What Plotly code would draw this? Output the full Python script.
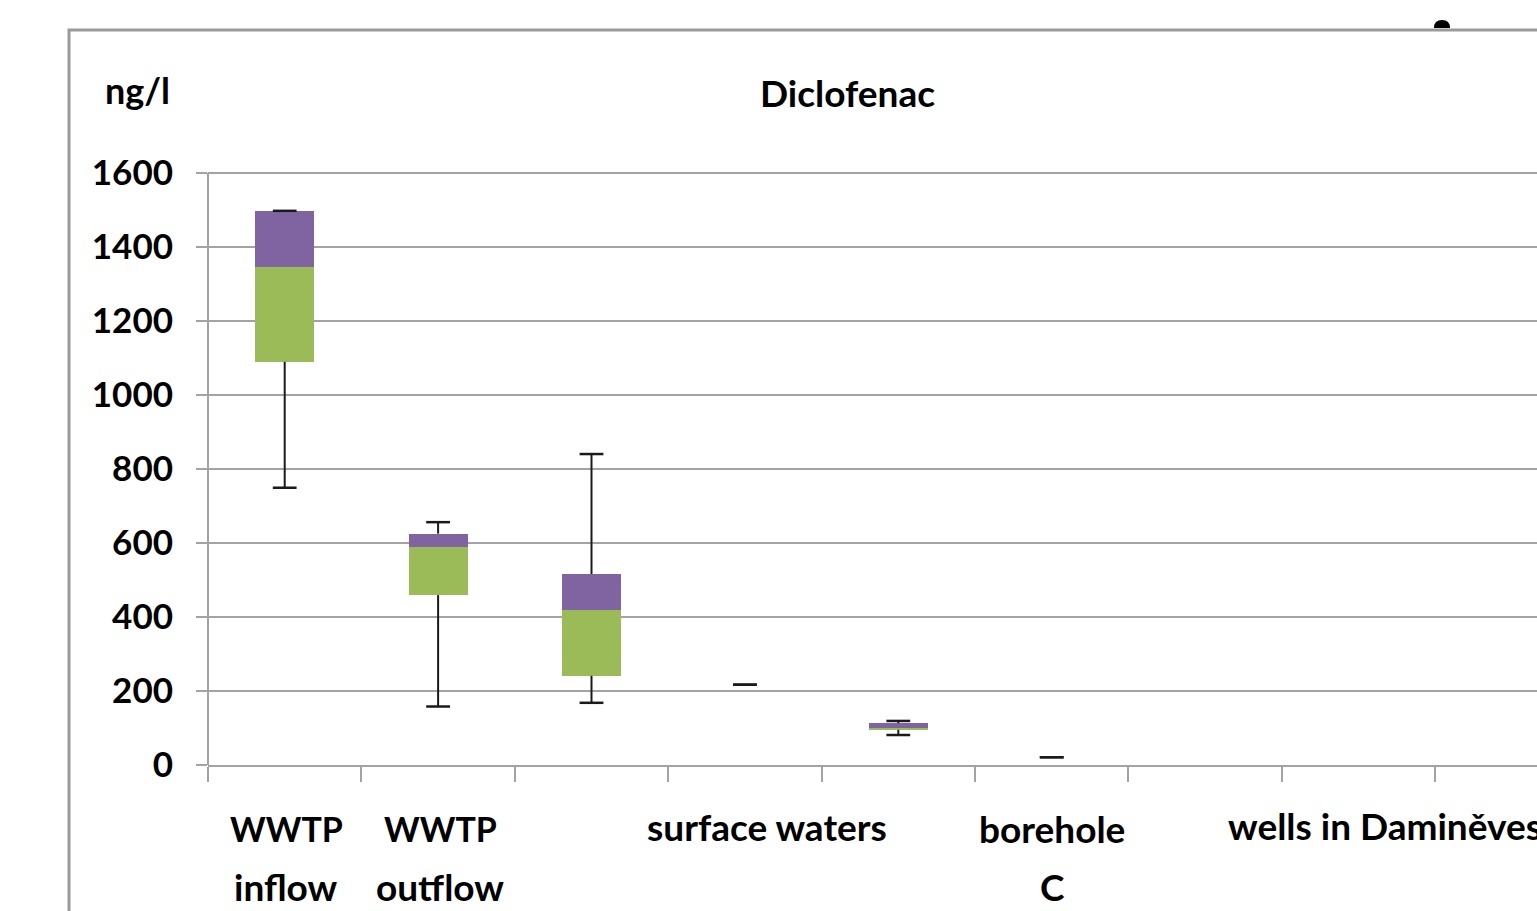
import plotly.graph_objects as go

# ---- data (ng/l) ----
categories = ["WWTP inflow", "WWTP outflow", "cat3", "surface waters 1", "surface waters 2",
              "borehole C", "wells 1", "wells 2", "wells 3"]
x_pos = [0, 1, 2, 3, 4, 5, 6, 7, 8]
v_min = [749, 158, 168, 217, 81, 21, None, None, None]
v_q1 = [1089, 459, 241, 217, 95, 21, None, None, None]
v_med = [1346, 588, 419, 217, 101, 21, None, None, None]
v_q3 = [1497, 625, 516, 217, 113, 21, None, None, None]
v_max = [1497, 656, 840, 217, 119, 21, None, None, None]
y_ticks = [0, 200, 400, 600, 800, 1000, 1200, 1400, 1600]

W, H = 1537, 911
L, R, T, B = 208, 1537, 169, 765  # plot area in pixels
Y_TOP = 1610


def px(xp):
    return (xp - L) / (R - L)


def py(yp):
    return (B - yp) / (B - T)


FONT = "Lato"
GREEN = "#9BBB59"
PURPLE = "#8064A2"
GRID = "#a3a3a3"
INK = "#1a1a1a"

fig = go.Figure()

lower = [None if a is None else a for a in v_q1]
green_h = [None if a is None else b - a for a, b in zip(v_q1, v_med)]
purple_h = [None if a is None else b - a for a, b in zip(v_med, v_q3)]

fig.add_trace(go.Bar(x=x_pos, y=lower, marker_color="rgba(0,0,0,0)", width=0.385,
                     marker_line_width=0, hoverinfo="skip", showlegend=False))
fig.add_trace(go.Bar(x=x_pos, y=green_h, marker_color=GREEN, width=0.385,
                     marker_line_width=0, showlegend=False))
fig.add_trace(go.Bar(x=x_pos, y=purple_h, marker_color=PURPLE, width=0.385,
                     marker_line_width=0, showlegend=False))

# whisker stems
wx, wy = [], []
for x, lo, q1, q3, hi in zip(x_pos, v_min, v_q1, v_q3, v_max):
    if lo is None:
        continue
    wx += [x, x, None, x, x, None]
    wy += [lo, q1, None, q3, hi, None]
fig.add_trace(go.Scatter(x=wx, y=wy, mode="lines", line=dict(color=INK, width=2),
                         showlegend=False, hoverinfo="skip"))
# whisker caps
cx, cy = [], []
for x, lo, hi in zip(x_pos, v_min, v_max):
    if lo is None:
        continue
    cx += [x, x]
    cy += [lo, hi]
fig.add_trace(go.Scatter(x=cx, y=cy, mode="markers",
                         marker=dict(symbol="line-ew-open", size=17, color=INK,
                                     line=dict(color=INK, width=2.5)),
                         showlegend=False, hoverinfo="skip"))

fig.update_layout(
    width=W, height=H,
    margin=dict(l=L, r=W - R, t=T, b=H - B),
    paper_bgcolor="white", plot_bgcolor="white",
    barmode="stack",
    font=dict(family=FONT, color="black"),
    xaxis=dict(range=[-0.5, -0.5 + (R - L) / 153.4], tickvals=[i - 0.5 for i in range(10)],
               ticktext=[""] * 10, showgrid=False, zeroline=False, showline=True,
               linecolor=GRID, linewidth=2, ticks="outside", ticklen=15, tickcolor=GRID,
               tickwidth=2),
    yaxis=dict(range=[0, Y_TOP], tickvals=y_ticks, showgrid=True, gridcolor=GRID, gridwidth=2,
               zeroline=False, showline=False, ticks="outside",
               ticklen=11, tickcolor=GRID, tickwidth=2,
               tickfont=dict(family=FONT, size=35, color="black", weight="bold"),
               ticklabelstandoff=16),
)

# vertical value-axis line from 0 to 1600 (Excel style, not above top gridline)
fig.add_shape(type="line", xref="paper", yref="y", x0=0, x1=0, y0=0, y1=1600,
              line=dict(color=GRID, width=2), layer="above")


def font(size):
    return dict(family=FONT, size=size, color="black", weight="bold")


anns = [
    ("Diclofenac", 847, 92, "center", 37),
    ("ng/l", 137, 90, "center", 36),
    ("WWTP", 286, 828, "center", 34),
    ("inflow", 286, 886, "center", 37),
    ("WWTP", 440, 828, "center", 34),
    ("outflow", 440, 886, "center", 37),
    ("surface waters", 767, 826, "center", 37),
    ("borehole", 1052, 828, "center", 37),
    ("C", 1052, 886, "center", 37),
    ("wells in Daminěves", 1226, 825, "left", 37),
]
for text, xp, yp, al, sz in anns:
    fig.add_annotation(text=text, x=px(xp), y=py(yp), xref="paper", yref="paper",
                       showarrow=False, xanchor=al, yanchor="middle", font=font(sz))

# chart-area frame (cropped)
fig.add_shape(type="path", xref="paper", yref="paper",
              path=f"M {px(69)} {py(1000)} L {px(69)} {py(30)} L {px(1700)} {py(30)}",
              line=dict(color="#9a9a9a", width=3), layer="above")
# small cropped glyph above the frame
fig.add_shape(type="path", xref="paper", yref="paper",
              path=(f"M {px(1434)} {py(28)} Q {px(1434)} {py(20)} {px(1442)} {py(20)} "
                    f"Q {px(1450)} {py(20)} {px(1450)} {py(28)} Z"),
              fillcolor="black", line=dict(color="black", width=0))

fig.write_html("out.html", config={"displayModeBar": False},
               post_script="document.body.style.margin='0';"
                           "document.body.style.overflow='hidden';"
                           "document.documentElement.style.overflow='hidden';")
